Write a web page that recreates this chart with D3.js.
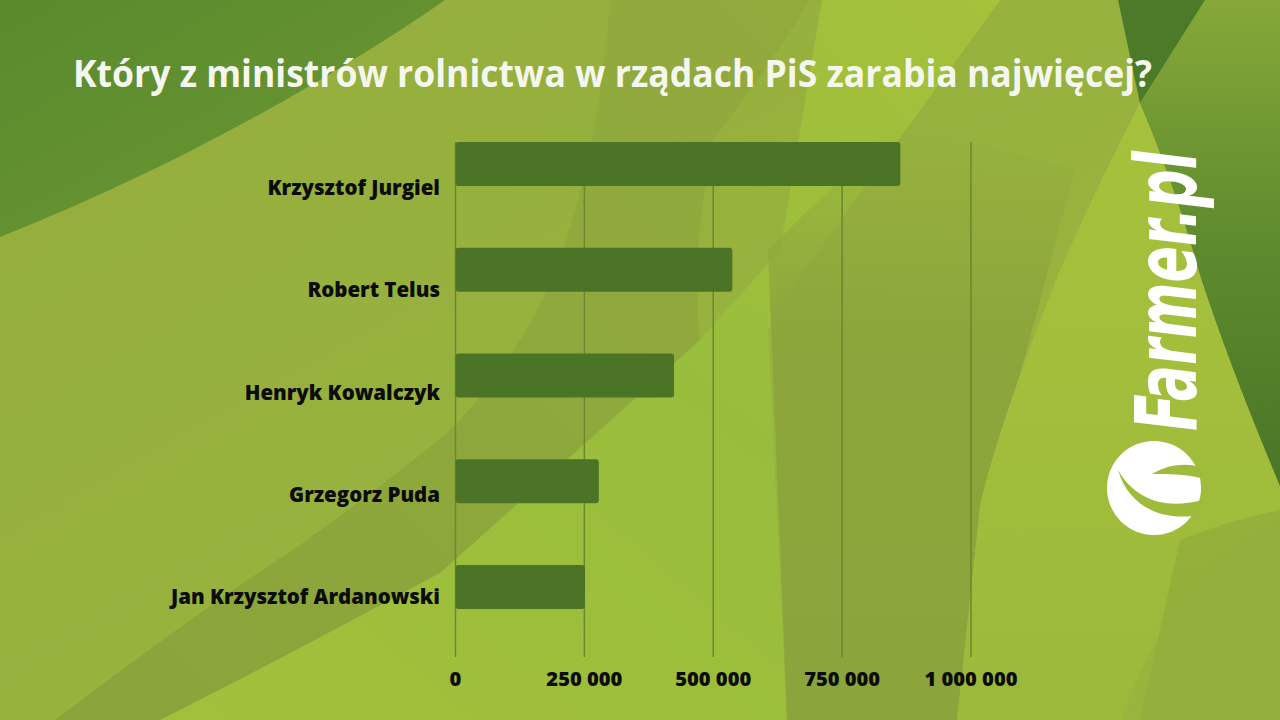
<!DOCTYPE html>
<html><head><meta charset="utf-8">
<script src="https://cdn.jsdelivr.net/npm/d3@7"></script>
<style>html,body{margin:0;padding:0;background:#95ae3d;}svg{display:block;}</style>
</head><body>
<svg id="chart" width="1280" height="720"></svg>
<script>
const title = "Który z ministrów rolnictwa w rządach PiS zarabia najwięcej?";
const categories = ["Krzysztof Jurgiel", "Robert Telus", "Henryk Kowalczyk", "Grzegorz Puda", "Jan Krzysztof Ardanowski"];
const values = [863000, 537000, 424000, 278000, 251000];
const tickValues = [0, 250000, 500000, 750000, 1000000];
const tickLabels = ["0", "250 000", "500 000", "750 000", "1 000 000"];

const svg = d3.select("#chart");
const defs = svg.append("defs");

function lin(id, x1, y1, x2, y2, stops) {
  const g = defs.append("linearGradient").attr("id", id)
    .attr("x1", x1).attr("y1", y1).attr("x2", x2).attr("y2", y2);
  stops.forEach(s => g.append("stop").attr("offset", s[0]).attr("stop-color", s[1]).attr("stop-opacity", s[2] == null ? 1 : s[2]));
}
lin("gBase", 0, 0, 1, 1, [[0, "#94ad3d"], [0.5, "#98b23e"], [1, "#9ab53c"]]);
lin("gTL", 0, 0, 1, 1, [[0, "#588a2c"], [1, "#6f9835"]]);
lin("gCenter", 0, 1, 1, 0, [[0, "#a3c03b"], [0.55, "#98bd3c"], [1, "#a6c13a"]]);
lin("gVert", 0, 0, 0, 1, [[0, "#8da63c", 0], [0.35, "#8da63c", 1], [1, "#8ba43b", 1]]);
lin("gRight", 0, 0, 0, 1, [[0, "#86a838"], [0.5, "#5e8b2e"], [1, "#4a7526"]]);
lin("gBright", 0, 0, 0, 1, [[0, "#a6c23b"], [1, "#9db93c"]]);
lin("gDark", 0, 1, 1, 0, [[0, "#8aa33b"], [0.5, "#8fa83c"], [1, "#92aa3c"]]);

// background
const bg = svg.append("g");
bg.append("rect").attr("width", 1280).attr("height", 720).attr("fill", "url(#gBase)");
// darker diagonal region (lower-left sweep up to the top centre)
bg.append("path").attr("d", "M55,720 Q200,610 300,545 Q390,480 447,433 Q520,360 560,260 Q600,140 610,0 L810,0 Q760,80 713,140 Q690,260 700,340 Q640,395 440,573 Q280,660 160,720 Z").attr("fill", "url(#gDark)");
// central bright region
bg.append("path").attr("d", "M160,720 Q280,660 440,573 Q640,395 700,340 L780,250 L822,0 L1000,0 L790,290 L768,330 L787,720 Z").attr("fill", "url(#gCenter)");
// darker vertical band
bg.append("path").attr("d", "M768,250 L787,720 L957,720 Q985,500 1024,360 L1075,170 L900,120 Z").attr("fill", "url(#gVert)");
// bright right band
bg.append("path").attr("d", "M1140,103 Q1100,180 1060,270 Q1000,420 980,505 L957,720 L1120,720 Q1180,560 1280,520 L1280,486 Q1230,367 1200,275 Q1175,185 1140,103 Z").attr("fill", "url(#gBright)");
// lower-right medium
bg.append("path").attr("d", "M1180,540 Q1230,520 1280,510 L1280,720 L1140,720 Z").attr("fill", "#94ae3c").attr("opacity", 0.9);
// top-left dark shape
bg.append("path").attr("d", "M0,0 L445,0 C330,80 170,170 0,237 Z").attr("fill", "url(#gTL)");
// right dark region
bg.append("path").attr("d", "M1205,0 L1280,0 L1280,486 Q1230,367 1200,275 Q1175,185 1140,103 Z").attr("fill", "url(#gRight)");
// top wedge
bg.append("path").attr("d", "M1118,0 L1205,0 L1140,103 Z").attr("fill", "#4b7b28");

// scales
const x = d3.scaleLinear().domain([0, 1000000]).range([455.5, 971]);
const y = d3.scaleBand().domain(categories).range([111, 640]).paddingInner(0.584).paddingOuter(0.292);
const yLabel = d3.scalePoint().domain(categories).range([195, 604]);

const gridTop = y(categories[0]);
const gridBottom = 657;

// gridlines
svg.append("g").selectAll("line").data(tickValues).join("line")
  .attr("x1", d => x(d)).attr("x2", d => x(d))
  .attr("y1", gridTop).attr("y2", gridBottom)
  .attr("stroke", "#6a892e").attr("stroke-width", 1.5);

// bars
svg.append("g").selectAll("rect").data(categories).join("rect")
  .attr("x", x(0)).attr("y", d => y(d))
  .attr("width", (d, i) => x(values[i]) - x(0))
  .attr("height", y.bandwidth())
  .attr("rx", 3).attr("fill", "#4b7427");

// helper: fit text widths to a reference width with heavier glyphs
function fitGroup(sel, refIndex, refWidth) {
  const nodes = sel.nodes();
  const k = refWidth / nodes[refIndex].getComputedTextLength();
  nodes.forEach(n => {
    const w = n.getComputedTextLength();
    d3.select(n).attr("textLength", w * k).attr("lengthAdjust", "spacingAndGlyphs");
  });
}

// category labels
const lab = svg.append("g").selectAll("text").data(categories).join("text")
  .attr("x", 440).attr("y", d => yLabel(d))
  .attr("text-anchor", "end")
  .attr("font-family", "'Open Sans', sans-serif").attr("font-weight", 800)
  .attr("font-size", 20.5).attr("fill", "#0c0c0c")
  .text(d => d);
fitGroup(lab, 4, 269);

// tick labels
const tl = svg.append("g").selectAll("text").data(tickValues).join("text")
  .attr("x", d => x(d)).attr("y", 686)
  .attr("text-anchor", "middle")
  .attr("font-family", "'Open Sans', sans-serif").attr("font-weight", 800)
  .attr("font-size", 20).attr("fill", "#0c0c0c")
  .text((d, i) => tickLabels[i]);
fitGroup(tl, 4, 93);

// title
const t = svg.append("text").attr("x", 73).attr("y", 87)
  .attr("font-family", "'Open Sans', sans-serif").attr("font-weight", 700)
  .attr("font-size", 37).attr("fill", "#f5f7ee").text(title);
fitGroup(t, 0, 1079);

// logo
const logo = svg.append("g");
logo.append("text")
  .attr("transform", "translate(1196,431) rotate(-90)")
  .attr("font-family", "'DejaVu Sans Condensed', 'DejaVu Sans', sans-serif")
  .attr("font-weight", 700).attr("font-style", "oblique")
  .attr("font-size", 86).attr("fill", "#ffffff")
  .attr("textLength", 280).attr("lengthAdjust", "spacingAndGlyphs")
  .text("Farmer.pl");
logo.append("circle").attr("cx", 1154).attr("cy", 488).attr("r", 47).attr("fill", "#ffffff");
logo.append("path").attr("d", "M1118,470 C1135,500 1166,510 1202,500 L1199,515 C1160,522 1128,505 1118,470 Z").attr("fill", "#9fbb3c");
logo.append("path").attr("d", "M1152,474 C1168,464 1188,462 1203,468 L1201,478 C1185,474 1168,474 1152,474 Z").attr("fill", "#9fbb3c");
</script>
</body></html>
